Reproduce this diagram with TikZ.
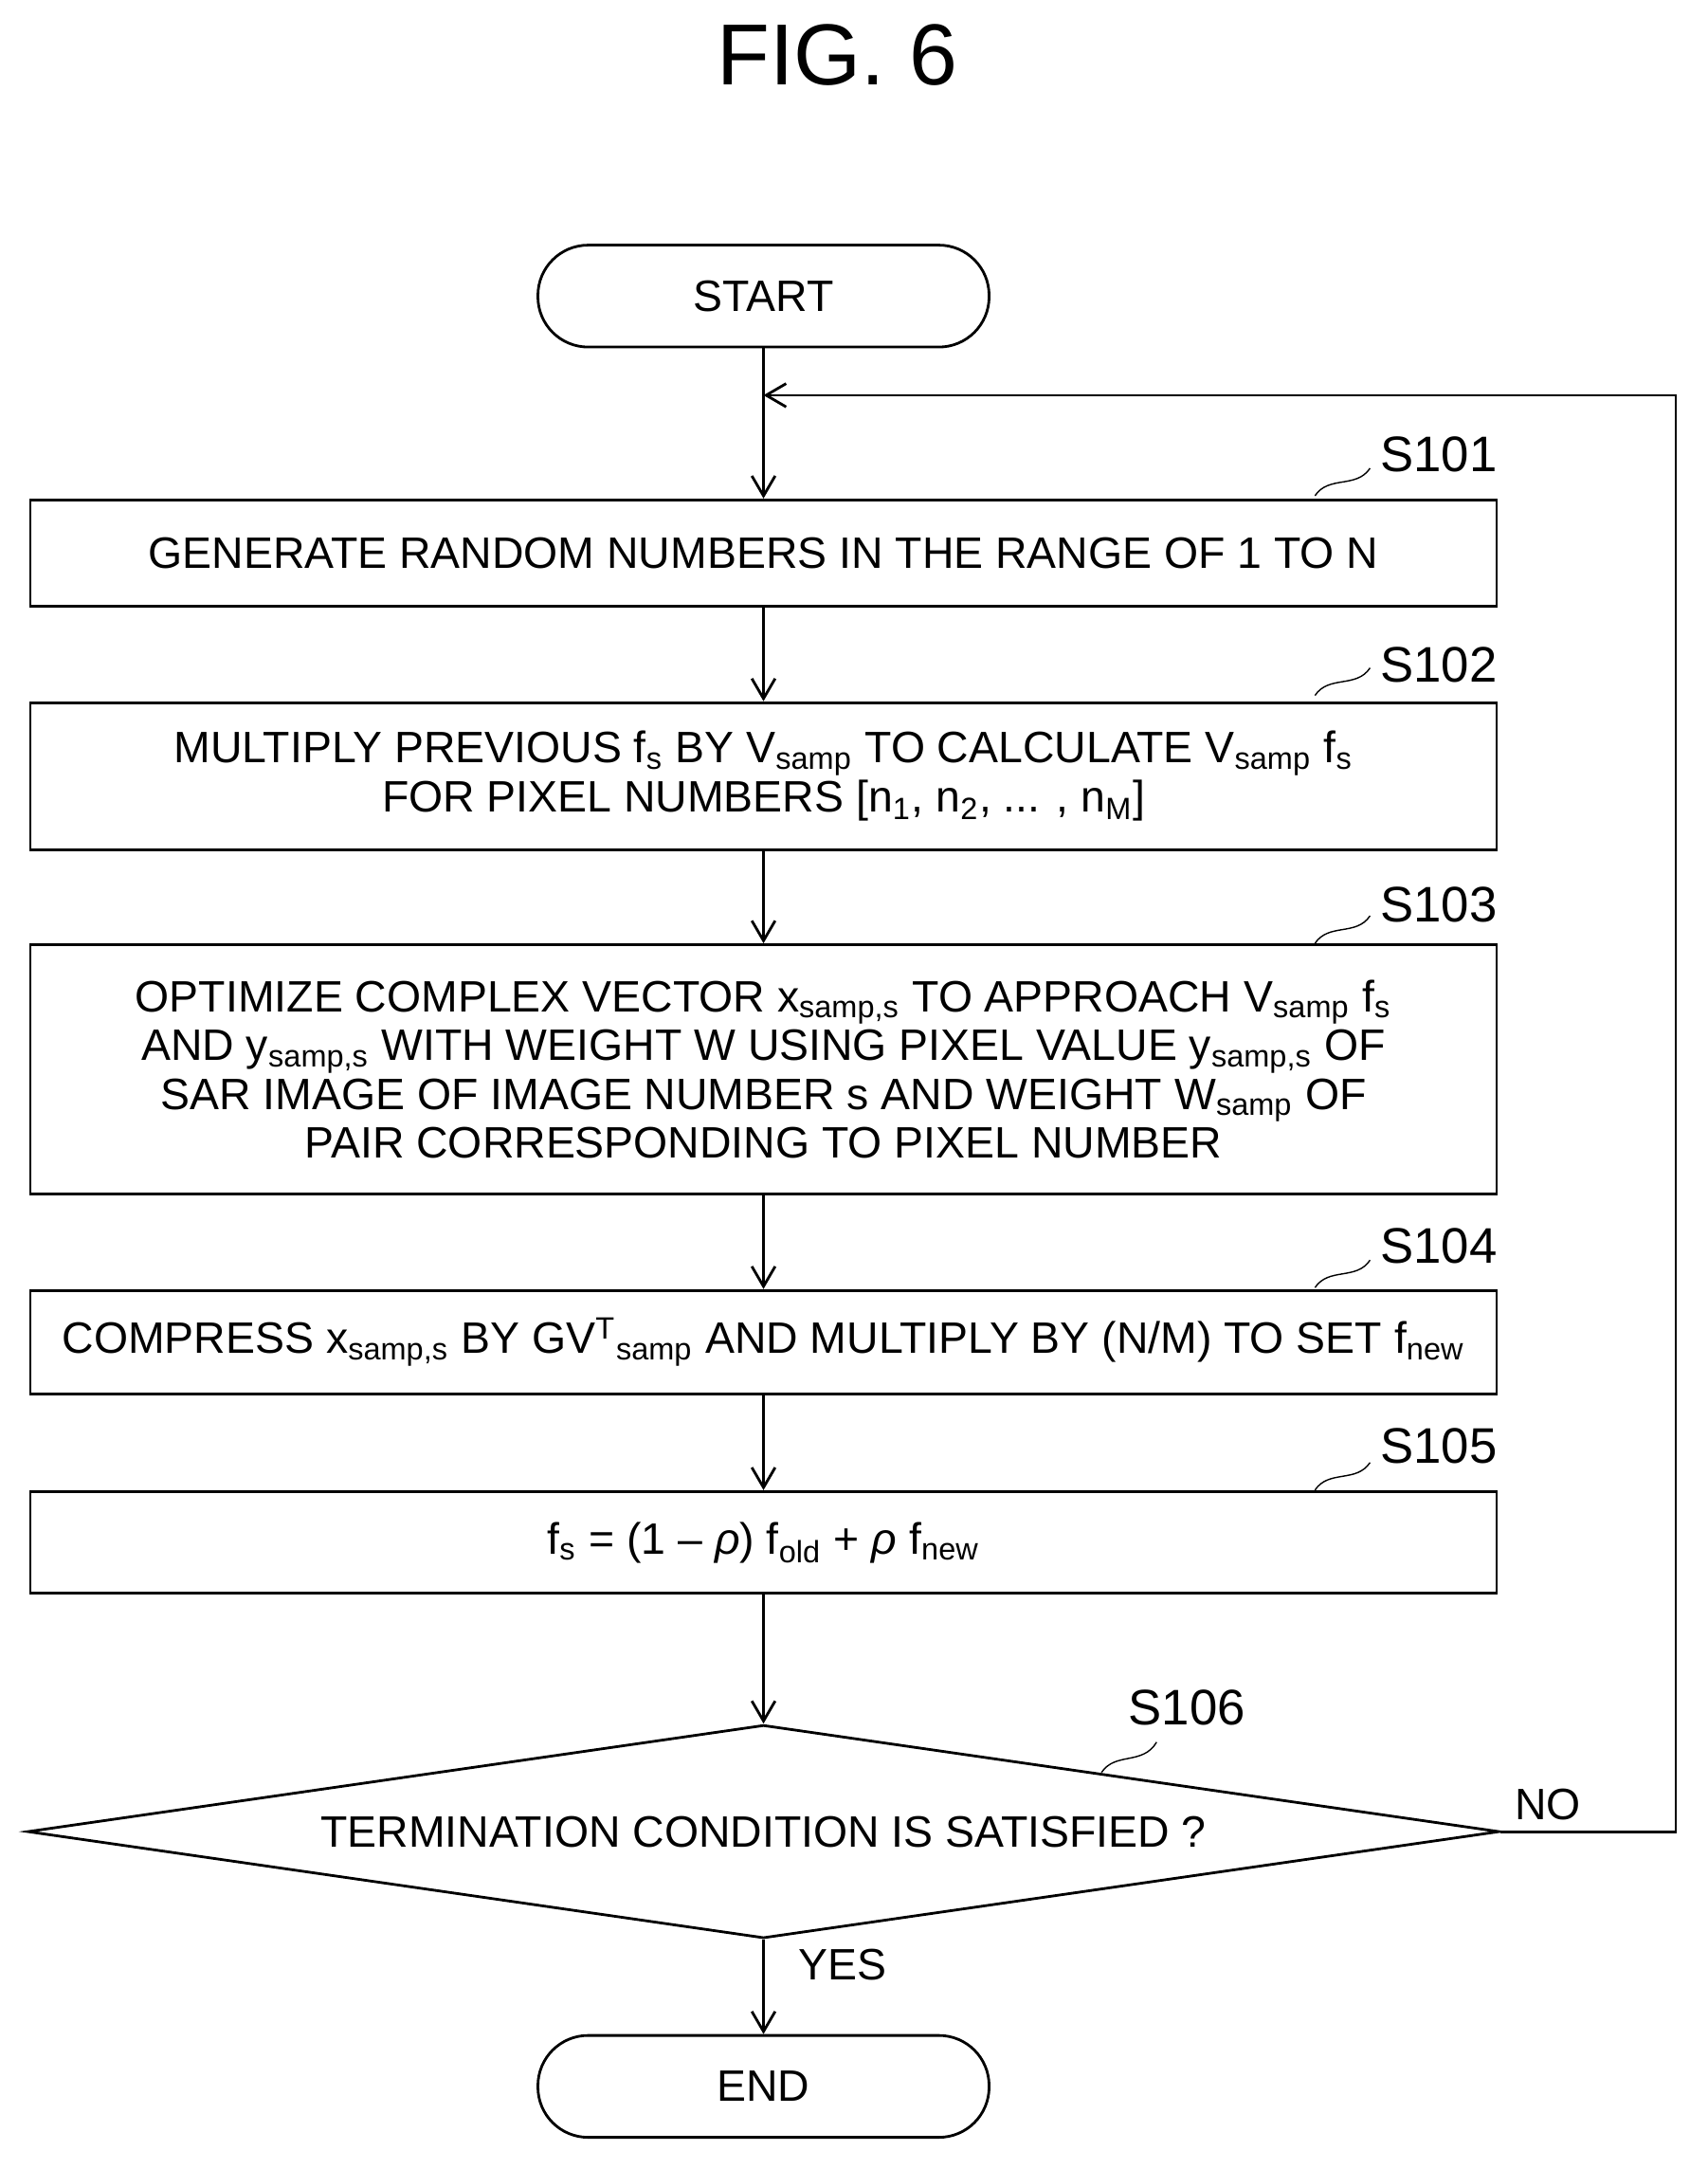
\documentclass[tikz,border=0pt]{standalone}
\usepackage{fontspec}
\setmainfont{Liberation Sans}
\usetikzlibrary{shapes.geometric,arrows.meta}
\tikzset{
  stepbox/.style={draw, thick, minimum width=15.47cm, align=center, inner sep=2pt},
  term/.style={draw, thick, rounded corners=0.53cm, minimum width=4.76cm, minimum height=1.075cm},
  flow/.style={thick, -{Straight Barb[length=6pt,width=7pt]}},
  tag/.style={font=\fontsize{15}{17}\selectfont}
}
\newcommand{\sub}[1]{\textsubscript{#1}}
\begin{document}
\begin{tikzpicture}[x=0.014524cm, y=-0.014524cm, font=\fontsize{13.2}{14.6}\selectfont]
        \useasboundingbox (0,0) rectangle (1240,1575);

        %Title
        \node (title) at (608,40) {\fontsize{26}{30}\selectfont FIG. 6};

        %Terminals
        \node [term] (start) at (554.5,215) {START};
        \node [term] (end) at (554.5,1515) {END};

        %Steps
        \node [stepbox, minimum height=1.12cm] (s101) at (554.5,401.5) {GENERATE RANDOM NUMBERS IN THE RANGE OF 1 TO N};
        \node [stepbox, minimum height=1.55cm] (s102) at (554.5,563.5) {MULTIPLY PREVIOUS f\sub{s} BY V\sub{samp} TO CALCULATE V\sub{samp} f\sub{s}\\FOR PIXEL NUMBERS [n\sub{1}, n\sub{2}, ... , n\sub{M}]};
        \node [stepbox, minimum height=2.63cm] (s103) at (554.5,776.5) {OPTIMIZE COMPLEX VECTOR x\sub{samp,s} TO APPROACH V\sub{samp} f\sub{s}\\AND y\sub{samp,s} WITH WEIGHT W USING PIXEL VALUE y\sub{samp,s} OF\\SAR IMAGE OF IMAGE NUMBER s AND WEIGHT W\sub{samp} OF\\PAIR CORRESPONDING TO PIXEL NUMBER};
        \node [stepbox, minimum height=1.09cm] (s104) at (554.5,974.5) {COMPRESS x\sub{samp,s} BY GV\textsuperscript{T}\sub{samp} AND MULTIPLY BY (N/M) TO SET f\sub{new}};
        \node [stepbox, minimum height=1.075cm] (s105) at (554.5,1120) {f\sub{s} = (1 -- \textit{ρ}) f\sub{old} + \textit{ρ} f\sub{new}};
        \node [draw, thick, diamond, aspect=6.9, minimum width=15.53cm, minimum height=2.25cm, inner sep=0pt] (s106) at (554.5,1330) {TERMINATION CONDITION IS SATISFIED ?};

        %Step labels
        \node [tag] (l101) at (1045,330) {S101};
        \node [tag] (l102) at (1045,483) {S102};
        \node [tag] (l103) at (1045,657) {S103};
        \node [tag] (l104) at (1045,905) {S104};
        \node [tag] (l105) at (1045,1050) {S105};
        \node [tag] (l106) at (862,1240) {S106};
        \draw (955,360) .. controls (965,345) and (985,355) .. (995,340);
        \draw (955,505) .. controls (965,490) and (985,500) .. (995,485);
        \draw (955,685) .. controls (965,670) and (985,680) .. (995,665);
        \draw (955,935) .. controls (965,920) and (985,930) .. (995,915);
        \draw (955,1082) .. controls (965,1067) and (985,1077) .. (995,1062);
        \draw (800,1287) .. controls (810,1272) and (830,1282) .. (840,1265);

        %Connectors
        \coordinate (loop) at (554.5,287);
        \draw [flow] (start) -- (s101);
        \draw [flow] (s101) -- (s102);
        \draw [flow] (s102) -- (s103);
        \draw [flow] (s103) -- (s104);
        \draw [flow] (s104) -- (s105);
        \draw [flow] (s105) -- (s106);
        \draw [flow] (s106) -- (end);
        \draw [flow] (s106.east) -- (1217,1330) -- (1217,287) -- (loop);
        \node (no) at (1124,1310) {NO};
        \node (yes) at (612,1427) {YES};

\end{tikzpicture}
\end{document}
